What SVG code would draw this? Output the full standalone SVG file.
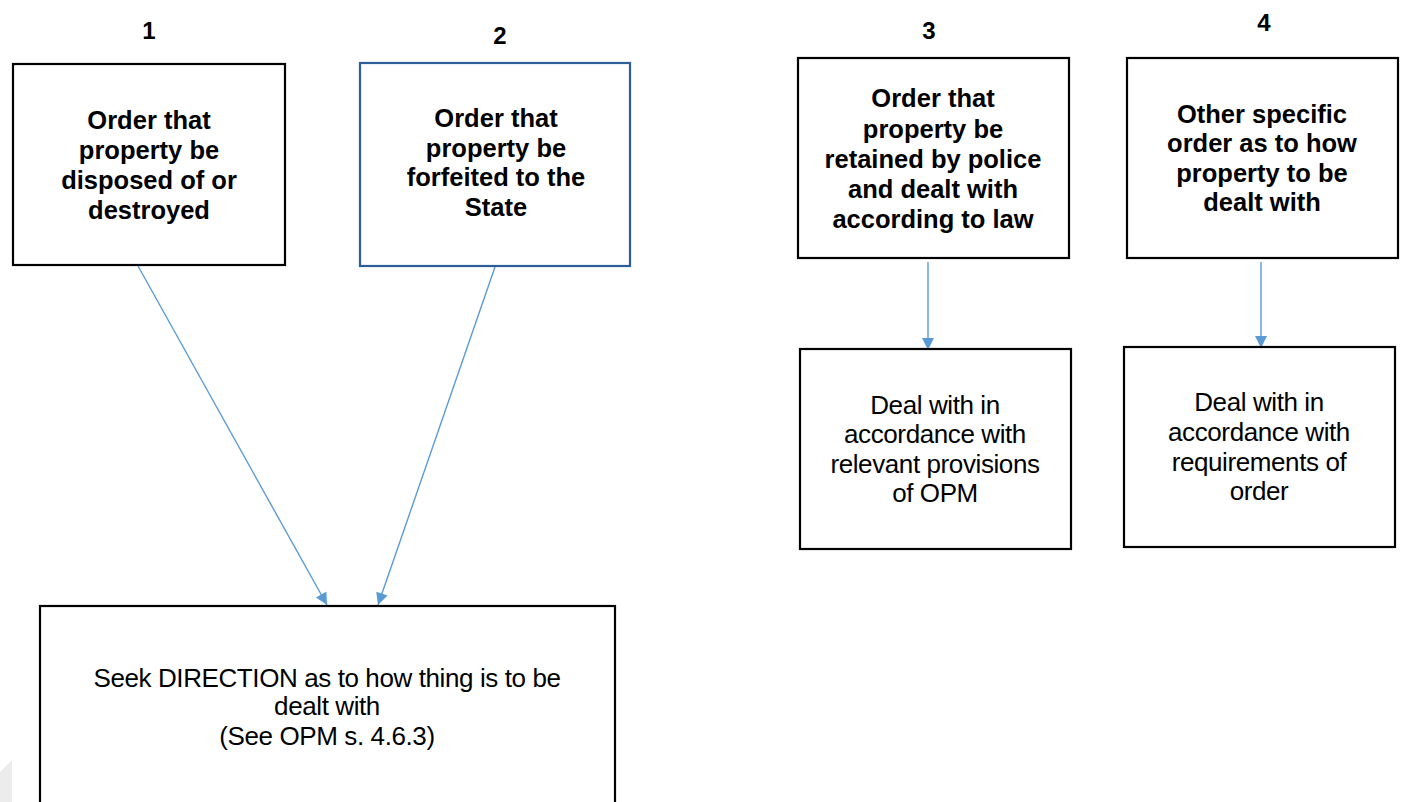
<svg xmlns="http://www.w3.org/2000/svg" width="1403" height="802" viewBox="0 0 1403 802">
<style>
.box{fill:#fff;stroke:#000;stroke-width:2.2}
.box2{fill:#fff;stroke:#2e5e97;stroke-width:2.2}
.b{font-family:"Liberation Sans",Arial,sans-serif;font-weight:bold;font-size:25.5px;fill:#000;text-anchor:middle}
.n{font-family:"Liberation Sans",Arial,sans-serif;font-weight:bold;font-size:24px;fill:#000;text-anchor:middle}
.r{font-family:"Liberation Sans",Arial,sans-serif;font-size:26px;fill:#000;text-anchor:middle;letter-spacing:-0.4px}
.c{stroke:#5b9bd5;stroke-width:1.4;fill:none;marker-end:url(#ah)}
</style>
<defs>
<marker id="ah" viewBox="0 0 10 10" refX="10" refY="5" markerWidth="13" markerHeight="12" markerUnits="userSpaceOnUse" orient="auto">
<path d="M0,0 L10,5 L0,10 z" fill="#5b9bd5"/>
</marker>
</defs>
<rect width="1403" height="802" fill="#fff"/>
<polygon points="0,772 12,760 12,802 0,802" fill="#ececec"/>
<g id="labels">
<text class="n" x="149" y="39">1</text>
<text class="n" x="500" y="44">2</text>
<text class="n" x="929" y="39">3</text>
<text class="n" x="1264" y="31">4</text>
</g>
<g id="connectors">
<line class="c" x1="138" y1="266" x2="327" y2="605"/>
<line class="c" x1="495" y1="267" x2="378" y2="605"/>
<line class="c" x1="928" y1="262" x2="928" y2="350"/>
<line class="c" x1="1261" y1="262" x2="1261" y2="348"/>
</g>
<g id="n1">
<rect class="box" x="13" y="64" width="272" height="201"/>
<text class="b" x="149" y="129">Order that</text>
<text class="b" x="149" y="159">property be</text>
<text class="b" x="149" y="189">disposed of or</text>
<text class="b" x="149" y="219">destroyed</text>
</g>
<g id="n2">
<rect class="box2" x="360" y="63" width="270" height="203"/>
<text class="b" x="496" y="127">Order that</text>
<text class="b" x="496" y="157">property be</text>
<text class="b" x="496" y="186">forfeited to the</text>
<text class="b" x="496" y="216">State</text>
</g>
<g id="n3">
<rect class="box" x="798" y="58" width="271" height="200"/>
<text class="b" x="933" y="107">Order that</text>
<text class="b" x="933" y="138">property be</text>
<text class="b" x="933" y="168">retained by police</text>
<text class="b" x="933" y="198">and dealt with</text>
<text class="b" x="933" y="228">according to law</text>
</g>
<g id="n4">
<rect class="box" x="1127" y="58" width="271" height="200"/>
<text class="b" x="1262" y="123">Other specific</text>
<text class="b" x="1262" y="152">order as to how</text>
<text class="b" x="1262" y="182">property to be</text>
<text class="b" x="1262" y="211">dealt with</text>
</g>
<g id="n5">
<rect class="box" x="800" y="349" width="271" height="200"/>
<text class="r" x="935" y="414">Deal with in</text>
<text class="r" x="935" y="443">accordance with</text>
<text class="r" x="935" y="473">relevant provisions</text>
<text class="r" x="935" y="502">of OPM</text>
</g>
<g id="n6">
<rect class="box" x="1124" y="347" width="271" height="200"/>
<text class="r" x="1259" y="411">Deal with in</text>
<text class="r" x="1259" y="441">accordance with</text>
<text class="r" x="1259" y="471">requirements of</text>
<text class="r" x="1259" y="500">order</text>
</g>
<g id="n7">
<rect class="box" x="40" y="606" width="575" height="210"/>
<text class="r" x="327" y="687">Seek DIRECTION as to how thing is to be</text>
<text class="r" x="327" y="715">dealt with</text>
<text class="r" x="327" y="745">(See OPM s. 4.6.3)</text>
</g>
</svg>
